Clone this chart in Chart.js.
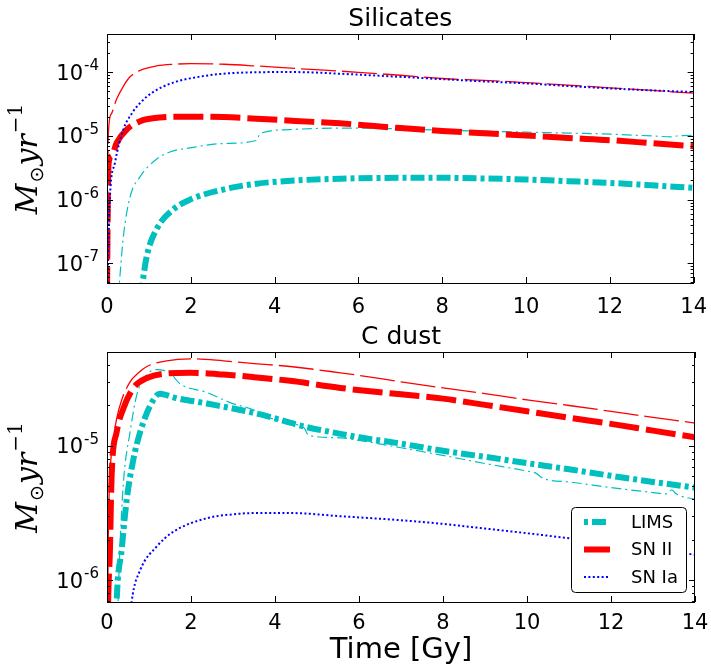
<!DOCTYPE html>
<html lang="en">
<head>
<meta charset="UTF-8">
<title>Dust production rates</title>
<script src="https://cdn.jsdelivr.net/npm/chart.js"></script>
<style>
  body { margin: 0; background: #fff; }
  #wrap { position: relative; width: 711px; height: 666px; }
  canvas { position: absolute; left: 0; }
  #top { top: 0; }
  #bottom { top: 318px; }
</style>
</head>
<body>
<div id="wrap">
  <canvas id="top" width="711" height="318"></canvas>
  <canvas id="bottom" width="711" height="348"></canvas>
</div>
<script>
// ---- data (time in Gy, rates in Msun/yr) ----
const xTicks = [0, 2, 4, 6, 8, 10, 12, 14];
const yTicksSil = [1e-7, 1e-6, 1e-5, 1e-4];
const yTicksC = [1e-6, 1e-5];

// Silicates
const silLimsT = [0.8, 0.95, 1.18, 1.58, 1.98, 2.77, 3.57, 4.5, 5.56, 7, 8, 9, 10, 11, 12, 13, 14];
const silLimsY = [3e-8, 1.3e-7, 3.4e-7, 7.0e-7, 1.0e-6, 1.44e-6, 1.78e-6, 2.0e-6, 2.13e-6, 2.2e-6, 2.2e-6, 2.15e-6, 2.07e-6, 1.95e-6, 1.83e-6, 1.68e-6, 1.53e-6];
const silSn2T = [0, 0.02, 0.04, 0.11, 0.23, 0.47, 0.79, 1.1, 1.58, 2.38, 3.57, 4.5, 5.56, 7, 8, 9, 10, 11, 12, 13, 14];
const silSn2Y = [3e-8, 1e-6, 3.8e-6, 4.8e-6, 7.8e-6, 1.26e-5, 1.71e-5, 1.9e-5, 2.0e-5, 2.0e-5, 1.87e-5, 1.72e-5, 1.58e-5, 1.33e-5, 1.2e-5, 1.1e-5, 1.02e-5, 9.3e-6, 8.6e-6, 7.7e-6, 6.9e-6];
const silSn1aT = [0, 0.03, 0.07, 0.19, 0.39, 0.6, 0.79, 1.1, 1.58, 2.2, 2.77, 3.5, 4.36, 5.0, 5.56, 6, 7, 8, 9, 10, 11, 12, 13, 14];
const silSn1aY = [1e-8, 1.5e-7, 1.1e-6, 3.8e-6, 1.26e-5, 2.3e-5, 3.3e-5, 4.9e-5, 6.9e-5, 8.5e-5, 9.5e-5, 1.0e-4, 1.01e-4, 9.9e-5, 9.5e-5, 9.2e-5, 8.5e-5, 7.8e-5, 7.2e-5, 6.7e-5, 6.1e-5, 5.6e-5, 5.2e-5, 4.9e-5];
const silLimsThinT = [0.27, 0.39, 0.55, 0.79, 1.18, 1.5, 1.98, 2.77, 3.57, 3.62, 3.7, 4.36, 5.56, 7, 8, 9, 10, 11, 12, 13, 13.5, 13.6, 14];
const silLimsThinY = [3e-8, 2.6e-7, 1.1e-6, 2.3e-6, 4.3e-6, 5.6e-6, 6.5e-6, 7.6e-6, 8.5e-6, 1.0e-5, 1.12e-5, 1.26e-5, 1.33e-5, 1.3e-5, 1.23e-5, 1.19e-5, 1.15e-5, 1.11e-5, 1.07e-5, 1.0e-5, 9.7e-6, 1.0e-5, 1.02e-5];
const silSn2ThinT = [0, 0.03, 0.1, 0.23, 0.4, 0.55, 0.8, 1.18, 1.6, 2.0, 2.8, 3.55, 4.5, 5.5, 6, 7, 8, 9, 10, 11, 12, 13, 14];
const silSn2ThinY = [2e-8, 1.0e-5, 2.2e-5, 3.8e-5, 6.2e-5, 8.5e-5, 1.08e-4, 1.26e-4, 1.34e-4, 1.37e-4, 1.34e-4, 1.26e-4, 1.15e-4, 1.05e-4, 1.0e-4, 9.0e-5, 8.0e-5, 7.5e-5, 6.9e-5, 6.3e-5, 5.7e-5, 5.2e-5, 4.7e-5];

// C dust
const cLimsT = [0.2, 0.23, 0.35, 0.47, 0.63, 0.79, 1.03, 1.26, 1.4, 1.58, 2.38, 3.57, 4.76, 5.56, 6, 7, 8, 9, 10, 11, 12, 13, 14];
const cLimsY = [3e-7, 7e-7, 1.7e-6, 4.0e-6, 8.0e-6, 1.27e-5, 2.0e-5, 2.45e-5, 2.4e-5, 2.3e-5, 2.07e-5, 1.74e-5, 1.38e-5, 1.23e-5, 1.16e-5, 1.04e-5, 9.2e-6, 8.3e-6, 7.45e-6, 6.7e-6, 6.0e-6, 5.4e-6, 4.9e-6];
const cSn2T = [0, 0.02, 0.07, 0.11, 0.23, 0.39, 0.63, 0.95, 1.42, 1.98, 2.77, 3.5, 4.36, 5.56, 7, 8, 9, 10, 11, 12, 13, 14];
const cSn2Y = [1e-7, 5e-7, 1.7e-6, 6e-6, 1.27e-5, 1.9e-5, 2.7e-5, 3.2e-5, 3.46e-5, 3.5e-5, 3.4e-5, 3.25e-5, 3.05e-5, 2.7e-5, 2.42e-5, 2.25e-5, 2.02e-5, 1.81e-5, 1.62e-5, 1.46e-5, 1.3e-5, 1.16e-5];
const cSn1aT = [0.55, 0.59, 0.79, 1.18, 1.58, 2.38, 3.0, 3.57, 4.36, 5.56, 7, 8, 9, 10, 11, 12, 13, 14];
const cSn1aY = [5e-7, 7e-7, 1.19e-6, 1.78e-6, 2.3e-6, 2.9e-6, 3.1e-6, 3.17e-6, 3.17e-6, 3.0e-6, 2.8e-6, 2.63e-6, 2.43e-6, 2.24e-6, 2.06e-6, 1.89e-6, 1.72e-6, 1.55e-6];
const cLimsThinT = [0.25, 0.3, 0.39, 0.55, 0.71, 0.95, 1.18, 1.35, 1.5, 1.74, 2.38, 2.93, 3.57, 3.65, 4.5, 4.7, 4.8, 5.56, 6, 7, 8, 9, 10, 10.2, 10.4, 11, 12, 13, 13.3, 13.45, 13.55, 14];
const cLimsThinY = [5e-7, 1.5e-6, 5.3e-6, 1.27e-5, 2.4e-5, 3.4e-5, 3.7e-5, 3.65e-5, 3.5e-5, 2.9e-5, 2.5e-5, 2.1e-5, 1.8e-5, 1.72e-5, 1.45e-5, 1.35e-5, 1.2e-5, 1.15e-5, 1.1e-5, 9.7e-6, 8.5e-6, 7.4e-6, 6.5e-6, 6.3e-6, 5.7e-6, 5.4e-6, 4.9e-6, 4.5e-6, 4.4e-6, 4.7e-6, 4.4e-6, 4.0e-6];
const cSn2ThinT = [0, 0.03, 0.07, 0.15, 0.23, 0.35, 0.55, 0.75, 0.95, 1.42, 1.98, 2.77, 3.5, 4.36, 5.56, 6, 7, 8, 9, 10, 11, 12, 13, 14];
const cSn2ThinY = [1e-7, 2e-6, 6e-6, 1.1e-5, 1.6e-5, 2.2e-5, 3.0e-5, 3.5e-5, 3.9e-5, 4.3e-5, 4.45e-5, 4.3e-5, 4.1e-5, 3.9e-5, 3.5e-5, 3.35e-5, 3.0e-5, 2.7e-5, 2.45e-5, 2.2e-5, 2.0e-5, 1.81e-5, 1.63e-5, 1.48e-5];

const CYAN = '#00bfbf', RED = '#ff0000', BLUE = '#0000ff';
const FONT = "'DejaVu Sans'";

Chart.defaults.font.family = FONT;
Chart.defaults.color = '#000';

const pts = (t, y) => t.map((v, i) => ({x: v, y: y[i]}));

// styles for each kind of line
const styles = {
  lims:     {borderColor: CYAN, borderWidth: 6,   borderDash: [14, 4, 4, 4]},
  sn2:      {borderColor: RED,  borderWidth: 6,   borderDash: [30, 7]},
  sn1a:     {borderColor: BLUE, borderWidth: 2,   borderDash: [2, 2.4]},
  limsThin: {borderColor: CYAN, borderWidth: 1.2, borderDash: [10, 4, 2, 4]},
  sn2Thin:  {borderColor: RED,  borderWidth: 1.3, borderDash: [35, 6]}
};

function ds(label, t, y, st, legend) {
  return Object.assign({
    label, data: pts(t, y), pointRadius: 0, fill: false,
    cubicInterpolationMode: 'monotone', inLegend: legend
  }, styles[st]);
}

// inward ticks, box frame, 10^n labels, y label and legend
const decor = {
  id: 'decor',
  afterDraw(chart, args, opts) {
    const {ctx, chartArea: a} = chart;
    const x = chart.scales.x, y = chart.scales.y;
    ctx.save();
    ctx.strokeStyle = '#000';
    ctx.lineWidth = 1;
    ctx.beginPath();
    xTicks.forEach(v => {
      const px = Math.round(x.getPixelForValue(v)) + 0.5;
      ctx.moveTo(px, a.bottom); ctx.lineTo(px, a.bottom - 6);
      ctx.moveTo(px, a.top); ctx.lineTo(px, a.top + 6);
    });
    const lo = Math.floor(Math.log10(y.min)), hi = Math.ceil(Math.log10(y.max));
    for (let e = lo; e <= hi; e++) {
      for (let m = 1; m < 10; m++) {
        const v = m * Math.pow(10, e);
        if (v < y.min || v > y.max) continue;
        const py = Math.round(y.getPixelForValue(v)) + 0.5;
        const len = m === 1 ? 6 : 3;
        ctx.moveTo(a.left, py); ctx.lineTo(a.left + len, py);
        ctx.moveTo(a.right, py); ctx.lineTo(a.right - len, py);
      }
    }
    ctx.stroke();
    ctx.strokeRect(Math.round(a.left) + 0.5, Math.round(a.top) + 0.5, Math.round(a.width) - 1, Math.round(a.height));

    // tick labels 10^n with a real superscript
    ctx.fillStyle = '#000';
    ctx.textAlign = 'right';
    ctx.textBaseline = 'alphabetic';
    opts.yticks.forEach(v => {
      const py = y.getPixelForValue(v);
      const ex = String(Math.round(Math.log10(v)));
      const r = a.left - 8;
      ctx.font = "15px " + FONT;
      const ew = ctx.measureText(ex).width;
      ctx.fillText(ex, r, py - 2);
      ctx.font = "21px " + FONT;
      ctx.fillText('10', r - ew - 1, py + 7.5);
    });
    ctx.textAlign = 'left';

    // y axis label  M_sun yr^-1
    ctx.translate(37, (a.top + a.bottom) / 2);
    ctx.rotate(-Math.PI / 2);
    const parts = [
      {t: 'M', f: "italic 30px 'DejaVu Serif'", dy: 0},
      {t: '\u2299', f: "19px 'DejaVu Sans'", dy: 6},
      {t: 'yr', f: "italic 30px 'DejaVu Serif'", dy: 0},
      {t: '\u22121', f: "20px 'DejaVu Serif'", dy: -15}
    ];
    let w = 0;
    parts.forEach(p => { ctx.font = p.f; p.w = ctx.measureText(p.t).width; w += p.w + 1; });
    let cx = -w / 2;
    parts.forEach(p => { ctx.font = p.f; ctx.fillText(p.t, cx, p.dy); cx += p.w + 1; });
    ctx.restore();

    if (opts.legend) {
      const items = chart.data.datasets.filter(d => d.inLegend);
      items.sort((p, q) => p.inLegend - q.inLegend);
      const bw = 115, bh = 85;
      const bx = a.right - 9 - bw, by = a.bottom - 10 - bh;
      ctx.save();
      ctx.fillStyle = '#fff';
      ctx.strokeStyle = '#000';
      ctx.lineWidth = 1;
      ctx.beginPath();
      ctx.roundRect(bx + 0.5, by + 0.5, bw, bh, 4);
      ctx.fill();
      ctx.stroke();
      ctx.font = "18px " + FONT;
      ctx.textBaseline = 'middle';
      items.forEach((d, i) => {
        const ly = by + 15 + i * 27.5;
        ctx.beginPath();
        ctx.strokeStyle = d.borderColor;
        ctx.lineWidth = d.borderWidth;
        ctx.setLineDash(d.borderDash);
        ctx.lineDashOffset = i === 0 ? 18 : 0;
        ctx.moveTo(bx + 13, ly); ctx.lineTo(bx + 39, ly);
        ctx.stroke();
        ctx.setLineDash([]);
        ctx.fillStyle = '#000';
        ctx.fillText(d.label, bx + 60, ly + 1);
      });
      ctx.restore();
    }
  }
};

function makeChart(id, title, datasets, ymin, ymax, yticks, xTitle, xHeight, xPad, legend) {
  return new Chart(document.getElementById(id), {
    type: 'line',
    data: {datasets},
    plugins: [decor],
    options: {
      responsive: false,
      animation: false,
      devicePixelRatio: 1,
      layout: {padding: {left: 0, right: 16, top: 0, bottom: 0}},
      plugins: {
        legend: {display: false},
        tooltip: {enabled: false},
        title: {
          display: true, text: title, fullSize: false, color: '#000',
          font: {size: 25, weight: 'normal', lineHeight: 1.1},
          padding: {top: 6, bottom: 0.5}
        },
        decor: {legend, yticks}
      },
      scales: {
        x: {
          type: 'linear', min: 0, max: 14,
          grid: {display: false},
          border: {display: false},
          ticks: {font: {size: 21}, color: '#000', padding: xPad, autoSkip: false, maxRotation: 0},
          afterBuildTicks: s => { s.ticks = xTicks.map(v => ({value: v})); },
          afterFit: s => { s.height = xHeight; },
          title: {display: !!xTitle, text: xTitle || '', font: {size: 29, lineHeight: 1.05}, color: '#000', padding: {top: 0, bottom: 0}}
        },
        y: {
          type: 'logarithmic', min: ymin, max: ymax,
          grid: {display: false},
          border: {display: false},
          ticks: {display: false},
          afterBuildTicks: s => { s.ticks = yticks.map(v => ({value: v})); },
          afterFit: s => { s.width = 107; }
        }
      }
    }
  });
}

makeChart('top', 'Silicates', [
  ds('SN Ia', silSn1aT, silSn1aY, 'sn1a', 3),
  ds('SN II', silSn2T, silSn2Y, 'sn2', 2),
  ds('LIMS', silLimsT, silLimsY, 'lims', 1),
  ds('SN II thin', silSn2ThinT, silSn2ThinY, 'sn2Thin', 0),
  ds('LIMS thin', silLimsThinT, silLimsThinY, 'limsThin', 0)
], 4.9e-8, 4.0e-4, yTicksSil, null, 35, 4, false);

makeChart('bottom', 'C dust', [
  ds('SN Ia', cSn1aT, cSn1aY, 'sn1a', 3),
  ds('SN II', cSn2T, cSn2Y, 'sn2', 2),
  ds('LIMS', cLimsT, cLimsY, 'lims', 1),
  ds('SN II thin', cSn2ThinT, cSn2ThinY, 'sn2Thin', 0),
  ds('LIMS thin', cLimsThinT, cLimsThinY, 'limsThin', 0)
], 6.9e-7, 5.0e-5, yTicksC, 'Time [Gy]', 64, 1, true);
</script>
</body>
</html>
